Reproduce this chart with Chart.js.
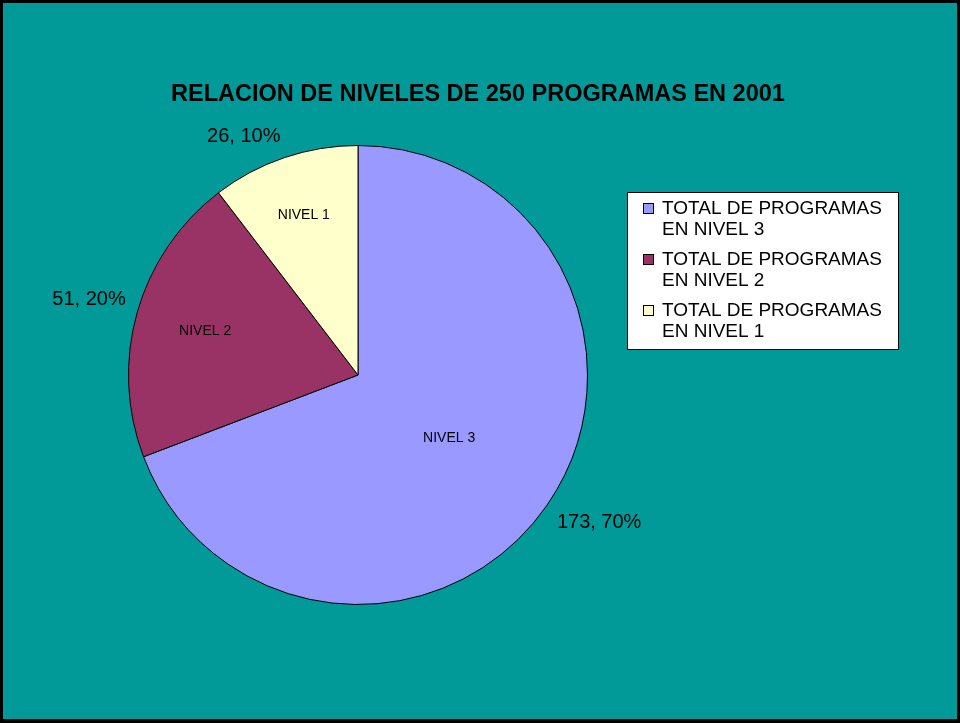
<!DOCTYPE html>
<html><head><meta charset="utf-8">
<script src="https://cdn.jsdelivr.net/npm/chart.js@4/dist/chart.umd.min.js"></script>
<style>html,body{margin:0;padding:0;background:#fff;} canvas{display:block;}</style>
</head><body>
<canvas id="c" width="960" height="723"></canvas>
<script>
const categories = ["NIVEL 3", "NIVEL 2", "NIVEL 1"];
const values = [173, 51, 26];
const percentLabels = ["70%", "20%", "10%"];
const legendLabels = [
  ["TOTAL DE PROGRAMAS", "EN NIVEL 3"],
  ["TOTAL DE PROGRAMAS", "EN NIVEL 2"],
  ["TOTAL DE PROGRAMAS", "EN NIVEL 1"]
];
const sliceColors = ["#9999FF", "#993366", "#FFFFCC"];
const titleText = "RELACION DE NIVELES DE 250 PROGRAMAS EN 2001";

const FONT = '"Liberation Sans", Arial, sans-serif';

const decor = {
  id: 'decor',
  beforeDraw(chart) {
    const ctx = chart.ctx;
    ctx.save();
    ctx.fillStyle = '#000';
    ctx.fillRect(0, 0, 960, 723);
    ctx.fillStyle = '#029999';
    ctx.fillRect(3, 3, 954, 716);
    ctx.restore();
  },
  afterDatasetsDraw(chart) {
    const ctx = chart.ctx;
    const meta = chart.getDatasetMeta(0);
    const total = values.reduce((a, b) => a + b, 0);
    ctx.save();
    // title
    ctx.fillStyle = '#000';
    ctx.font = 'bold 23.5px ' + FONT;
    ctx.textAlign = 'center';
    ctx.textBaseline = 'alphabetic';
    ctx.fillText(titleText, 478, 101);

    // slice labels
    meta.data.forEach((arc, i) => {
      const p = arc.getProps(['x', 'y', 'startAngle', 'endAngle', 'outerRadius'], true);
      const mid = (p.startAngle + p.endAngle) / 2;
      const dx = Math.cos(mid), dy = Math.sin(mid);
      const frac = values[i] / total;
      // inner category label
      const rin = p.outerRadius * (0.78 - 0.43 * frac);
      ctx.font = '14px ' + FONT;
      ctx.textAlign = 'center';
      ctx.textBaseline = 'middle';
      ctx.fillStyle = '#000';
      ctx.fillText(categories[i], p.x + dx * rin, p.y + dy * rin);
      // outer value label
      const rout = p.outerRadius + 12;
      const ax = p.x + dx * rout, ay = p.y + dy * rout;
      ctx.font = '20px ' + FONT;
      ctx.textAlign = dx > 0.3 ? 'left' : (dx < -0.3 ? 'right' : 'center');
      ctx.textBaseline = dy > 0.2 ? 'top' : (dy < -0.2 ? 'bottom' : 'middle');
      ctx.fillText(values[i] + ', ' + percentLabels[i], ax, ay);
    });

    // legend
    const lx = 627, ly = 192, lw = 272, lh = 158;
    ctx.fillStyle = '#fff';
    ctx.fillRect(lx, ly, lw, lh);
    ctx.strokeStyle = '#000';
    ctx.lineWidth = 1;
    ctx.strokeRect(lx + 0.5, ly + 0.5, lw - 1, lh - 1);
    ctx.font = '19px ' + FONT;
    ctx.textAlign = 'left';
    ctx.textBaseline = 'middle';
    legendLabels.forEach((lines, i) => {
      const cy = ly + 17 + i * 51;
      ctx.fillStyle = sliceColors[i];
      ctx.fillRect(643, cy - 6, 11, 11);
      ctx.strokeStyle = '#000';
      ctx.strokeRect(643.5, cy - 5.5, 10, 10);
      ctx.fillStyle = '#000';
      lines.forEach((t, j) => ctx.fillText(t, 662, cy + j * 21));
    });
    ctx.restore();
  }
};

new Chart(document.getElementById('c'), {
  type: 'pie',
  data: {
    labels: categories,
    datasets: [{
      data: values,
      backgroundColor: sliceColors,
      borderColor: '#000',
      borderWidth: 1
    }]
  },
  options: {
    responsive: false,
    animation: false,
    layout: { padding: { left: 128, right: 372, top: 145, bottom: 118 } },
    plugins: { legend: { display: false }, title: { display: false }, tooltip: { enabled: false } }
  },
  plugins: [decor]
});
</script>
</body></html>
